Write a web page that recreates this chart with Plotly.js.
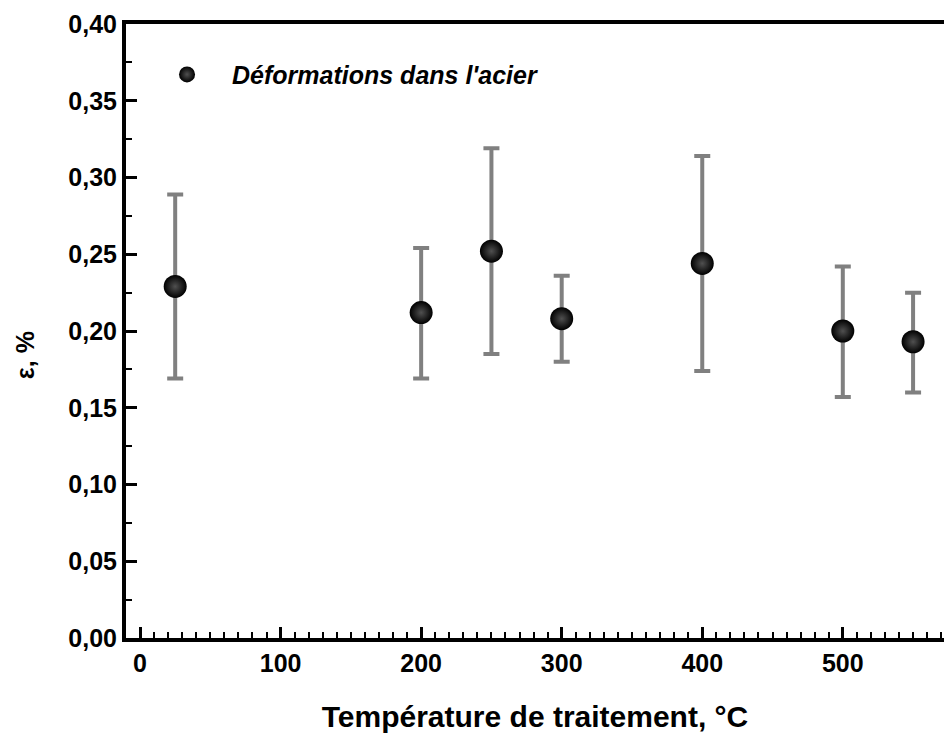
<!DOCTYPE html>
<html>
<head>
<meta charset="utf-8">
<script src="https://cdn.plot.ly/plotly-3.0.1.min.js"></script>
<style>html,body{margin:0;padding:0;background:#fff;overflow:hidden;}</style>
</head>
<body>
<div id="chart" style="width:944px;height:733px;"></div>
<script>
// Data
const temperatures = [25, 200, 250, 300, 400, 500, 550];
const strain = [0.229, 0.212, 0.252, 0.208, 0.244, 0.200, 0.193];
const strainUpper = [0.289, 0.254, 0.319, 0.236, 0.314, 0.242, 0.225];
const strainLower = [0.169, 0.169, 0.185, 0.180, 0.174, 0.157, 0.160];
const seriesName = "Déformations dans l'acier";
const xTitle = "Température de traitement, °C";
const yTitle = "ε, %";

const errPlus = strainUpper.map((u, i) => u - strain[i]);
const errMinus = strain.map((v, i) => v - strainLower[i]);

const FONT = "Liberation Sans, Arial, sans-serif";

const trace = {
  type: 'scatter',
  mode: 'markers',
  x: temperatures,
  y: strain,
  name: '<b><i>' + seriesName + '</i></b>',
  marker: {
    size: 23,
    color: '#000000',
    gradient: {type: 'radial', color: '#505050'},
    line: {width: 0}
  },
  error_y: {
    type: 'data',
    symmetric: false,
    array: errPlus,
    arrayminus: errMinus,
    color: '#808080',
    thickness: 4,
    width: 8
  }
};

const layout = {
  width: 944,
  height: 733,
  margin: {l: 126, r: 0, t: 24, b: 95},
  paper_bgcolor: '#ffffff',
  plot_bgcolor: '#ffffff',
  separators: ', ',
  font: {family: FONT, color: '#000', size: 22},
  showlegend: true,
  legend: {
    x: 0.0196, y: 0.955, xanchor: 'left', yanchor: 'top',
    itemwidth: 80,
    bgcolor: 'rgba(0,0,0,0)',
    font: {family: FONT, size: 25, color: '#000'}
  },
  xaxis: {
    range: [-10, 572],
    tickmode: 'linear', tick0: 0, dtick: 100,
    ticks: 'inside', ticklen: 11, tickwidth: 3, tickcolor: '#000',
    minor: {dtick: 10, ticks: 'inside', ticklen: 6, tickwidth: 2, tickcolor: '#000', showgrid: false},
    showline: true, linewidth: 4, linecolor: '#000', mirror: true,
    showgrid: false, zeroline: false,
    tickfont: {family: FONT, size: 25, weight: 'bold', color: '#000'},
    title: {text: '<b>' + xTitle + '</b>', font: {family: FONT, size: 30, color: '#000'}, standoff: 31}
  },
  yaxis: {
    range: [0, 0.40],
    tickmode: 'linear', tick0: 0, dtick: 0.05, tickformat: '.2f',
    ticks: 'inside', ticklen: 11, tickwidth: 3, tickcolor: '#000',
    minor: {dtick: 0.025, ticks: 'inside', ticklen: 6, tickwidth: 2, tickcolor: '#000', showgrid: false},
    showline: true, linewidth: 4, linecolor: '#000', mirror: false,
    showgrid: false, zeroline: false,
    tickfont: {family: FONT, size: 25, weight: 'bold', color: '#000'}
  },
  annotations: [{
    text: '<b>' + yTitle + '</b>',
    xref: 'paper', yref: 'paper',
    x: -0.124, y: 0.46,
    xanchor: 'center', yanchor: 'middle',
    textangle: -90, showarrow: false,
    font: {family: FONT, size: 25, color: '#000'}
  }]
};

Plotly.newPlot('chart', [trace], layout, {displayModeBar: false, staticPlot: true});
</script>
</body>
</html>
